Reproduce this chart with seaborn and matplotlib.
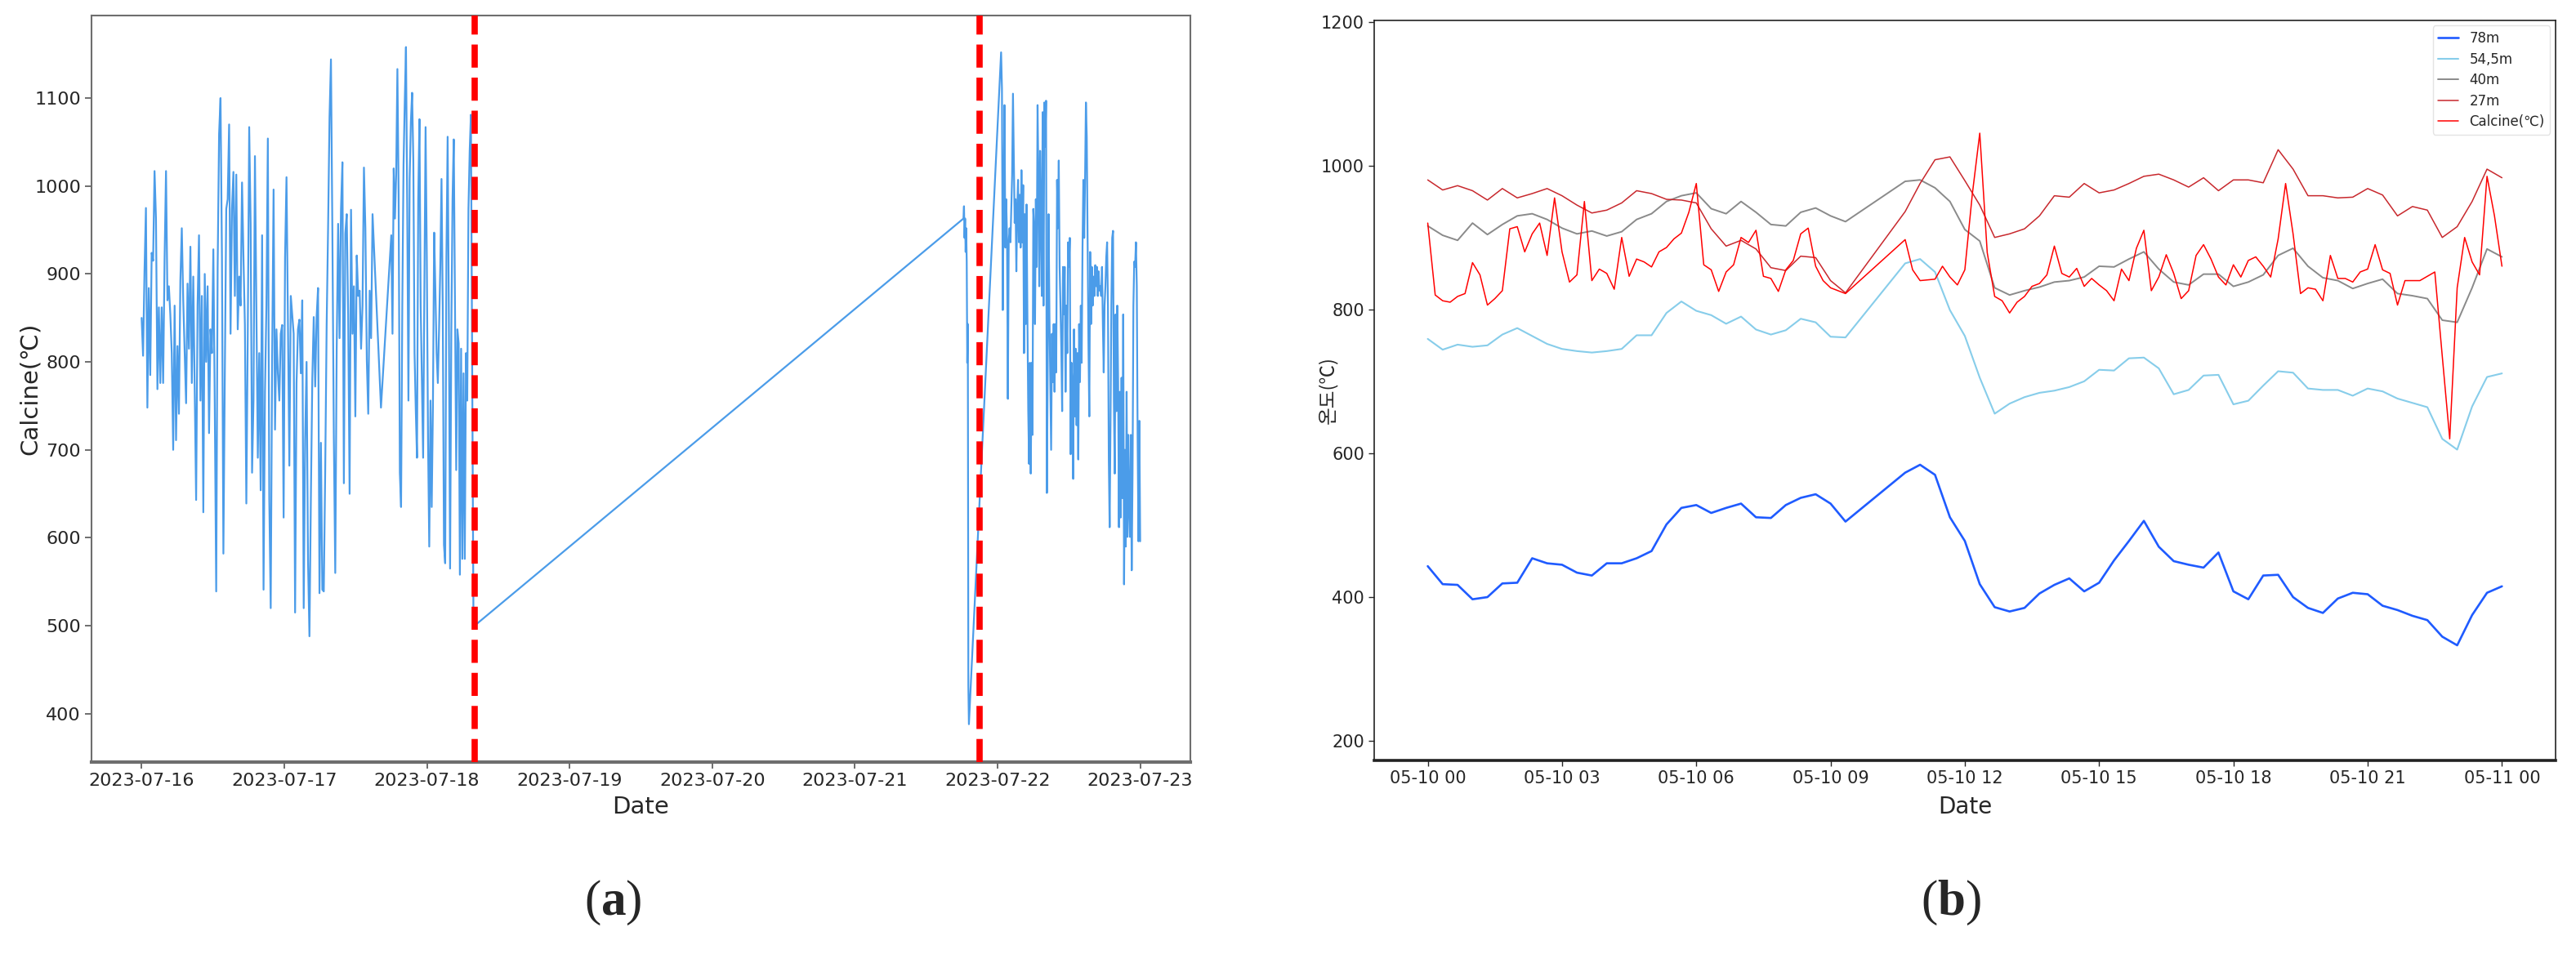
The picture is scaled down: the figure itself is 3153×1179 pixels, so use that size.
import matplotlib
matplotlib.use("Agg")
import matplotlib.pyplot as plt
import matplotlib.dates as mdates
from matplotlib import font_manager
import seaborn as sns
import pandas as pd

# ---------------- data: (a) calcine temperature ----------------
calcine_a_1 = [850, 807, 903, 975, 748, 884, 785, 924, 915, 1017, 963, 769, 862, 776, 862, 776, 917, 1017, 870, 886,
               854, 810, 700, 864, 711, 818, 741, 892, 952, 870, 810, 753, 889, 815, 931, 776, 897, 766, 643, 864,
               944, 756, 875, 629, 900, 800, 886, 719, 837, 810, 928, 750, 539, 907, 1059, 1100, 919, 582, 785, 974,
               985, 1070, 832, 974, 1016, 875, 1013, 837, 897, 864, 1004, 919, 842, 639, 832, 1067, 957, 674, 756, 1034,
               864, 691, 810, 654, 944, 541, 766, 864, 1054, 645, 520, 806, 996, 723, 837, 787, 756, 832, 842, 623,
               919, 1010, 842, 682, 875, 854, 832, 515, 776, 837, 848, 787, 870, 520, 711, 800, 575, 488, 645, 781,
               851, 772, 851, 884, 537, 708, 541, 539, 677, 842, 952, 1078, 1144, 946, 716, 560, 815, 957, 827, 974,
               1027, 662, 946, 968, 854, 650, 973, 832, 886, 738, 921, 875, 881, 815, 864, 1021, 952, 802, 741, 881,
               827, 968]
calcine_a_gap = [748]
calcine_a_2 = [944, 832, 1020, 963, 1013, 1133, 990, 674, 635, 864, 1024, 1095, 1158, 979, 756, 1008, 1073, 1106, 1029, 810,
               745, 691, 985, 1076, 864, 776, 691, 875, 1067, 919, 711, 590, 756, 635, 750, 947, 881, 810, 776, 837,
               908, 1008, 864, 592, 571, 919, 1056, 854, 565, 832, 985, 1053, 864, 677, 837, 821, 558, 815, 576, 787,
               576, 810, 756, 974, 1040, 1081]
calcine_a_drop = [499]
calcine_a_3 = [963, 977, 941, 963, 925, 952, 914, 799, 843, 432, 388]
calcine_a_4 = [1152, 1111, 859, 985, 1092, 930, 985, 941, 758, 936, 952, 936, 974, 1012, 1105, 1029, 958, 985, 903, 974,
               1007, 936, 990, 930, 1018, 936, 1001, 810, 968, 843, 979, 854, 744, 684, 799, 673, 799, 717, 974, 952,
               843, 985, 908, 1092, 1007, 886, 1040, 968, 875, 1084, 864, 1095, 1045, 1097, 651, 799, 968, 854, 777, 700,
               832, 777, 843, 766, 843, 788, 1007, 952, 1029, 908, 864, 815, 744, 908, 854, 908, 766, 864, 810, 936,
               908, 941, 695, 799, 771, 667, 837, 738, 815, 728, 810, 689, 843, 777, 864, 799, 930, 1007, 941, 1007,
               1095, 1056, 936, 821, 738, 925, 843, 908, 864, 897, 875, 910, 886, 908, 875, 903, 881, 886, 875, 908,
               843, 788, 864, 886, 919, 936, 864, 689, 612, 728, 864, 941, 949, 755, 673, 854, 744, 864, 777, 612,
               766, 623, 782, 645, 854, 547, 700, 590, 766, 601, 717, 634, 601, 717, 563, 673, 864, 914, 908, 936,
               886, 711, 596, 733, 596]
segments_a = [
    ("2023-07-16 00:00", "2023-07-17 14:51", calcine_a_1),
    ("2023-07-17 16:16", "2023-07-17 16:16", calcine_a_gap),
    ("2023-07-17 18:00", "2023-07-18 07:24", calcine_a_2),
    ("2023-07-18 07:50", "2023-07-18 07:50", calcine_a_drop),
    ("2023-07-21 18:16", "2023-07-21 19:11", calcine_a_3),
    ("2023-07-22 00:36", "2023-07-23 00:00", calcine_a_4),
]
event_lines = ["2023-07-18 08:00", "2023-07-21 21:00"]

# ---------------- data: (b) temperatures by height ----------------
blue_78_a = [443, 418, 417, 397, 400, 419, 420, 454, 447, 445, 434, 430, 447, 447, 454, 464, 501, 524, 528, 517,
             524, 530, 511, 510, 528, 538, 543, 530, 505]
blue_78_b = [573, 584, 570, 511, 478, 418, 386, 380, 385, 405, 417, 426, 408, 420, 451, 478, 506, 470, 450, 445,
             441, 462, 408, 397, 430, 431, 400, 385, 378, 398, 406, 404, 388, 382, 374, 368, 345, 333, 375, 406, 415]
sky_545_a = [759, 744, 751, 748, 750, 765, 774, 763, 752, 745, 742, 740, 742, 745, 764, 764, 795, 811, 798, 792,
             780, 790, 772, 765, 771, 787, 782, 762, 761]
sky_545_b = [864, 870, 852, 799, 763, 705, 655, 669, 678, 684, 687, 692, 700, 716, 715, 732, 733, 718, 682, 688,
             708, 709, 668, 673, 694, 714, 712, 690, 688, 688, 680, 690, 686, 676, 670, 664, 620, 605, 665, 706, 711]
gray_40_a = [916, 903, 896, 920, 904, 918, 930, 933, 925, 913, 905, 909, 902, 908, 925, 933, 950, 958, 962, 940,
             933, 950, 935, 918, 916, 935, 941, 930, 922]
gray_40_b = [978, 980, 969, 950, 911, 895, 830, 820, 826, 831, 838, 840, 845, 860, 859, 870, 880, 856, 838, 834,
             849, 849, 832, 838, 848, 875, 885, 860, 844, 840, 829, 836, 842, 822, 819, 815, 785, 782, 830, 884, 873]
dred_27_a = [980, 966, 972, 965, 952, 968, 955, 961, 968, 958, 945, 934, 938, 948, 965, 961, 953, 952, 948, 912,
             888, 896, 884, 858, 854, 874, 872, 840, 823]
dred_27_b = [936, 975, 1008, 1012, 979, 945, 900, 905, 912, 930, 958, 956, 975, 962, 966, 975, 985, 988, 980, 970,
             983, 965, 980, 980, 976, 1022, 995, 958, 958, 955, 956, 968, 959, 930, 943, 938, 900, 915, 950, 995, 983]
calc_b_a = [920, 820, 812, 810, 818, 822, 865, 848, 806, 815, 826, 912, 915, 880, 905, 920, 875, 955, 880, 838,
            848, 950, 840, 856, 850, 828, 900, 846, 870, 866, 859, 880, 886, 898, 906, 935, 975, 862, 855, 825,
            852, 862, 900, 893, 910, 846, 843, 825, 855, 868, 905, 913, 860, 840, 830, 826, 822]
calc_b_b = [897, 855, 840, 841, 842, 860, 845, 834, 855, 960, 1045, 879, 818, 812, 795, 810, 818, 832, 836, 848,
            888, 850, 845, 857, 832, 843, 834, 826, 812, 856, 840, 885, 910, 826, 845, 876, 850, 815, 826, 875,
            890, 870, 845, 834, 862, 845, 868, 873, 860, 845, 898, 975, 905, 822, 830, 828, 812, 875, 843, 843,
            838, 852, 856, 890, 855, 850, 806, 840, 840, 840, 846, 852, 735, 620, 830, 900, 866, 848, 985, 930, 860]

series_names = ["78m", "54,5m", "40m", "27m", "Calcine(℃)"]
series_colors = ["#1f5bff", "#87cdea", "#8a8a8a", "#c8282d", "#ff0000"]
series_widths = [1.9, 1.5, 1.4, 1.1, 1.1]

# ---------------- fonts / style ----------------
sns.set_style("ticks")
names = {f.name for f in font_manager.fontManager.ttflist}
base_font = "Liberation Sans Narrow" if "Liberation Sans Narrow" in names else "DejaVu Sans"
plt.rcParams["font.family"] = [base_font, "DejaVu Sans", "Noto Sans CJK KR"]
plt.rcParams["mathtext.fontset"] = "custom"
plt.rcParams["mathtext.bf"] = "Liberation Serif:bold"
plt.rcParams["mathtext.rm"] = "Liberation Serif"

fig = plt.figure(figsize=(31.53, 11.79), dpi=100)
ax1 = fig.add_axes([0.0356, 0.2087, 0.4264, 0.7753])
ax2 = fig.add_axes([0.5334, 0.2104, 0.4587, 0.7686])

# ---------------- (a) ----------------
frames = []
for start, end, vals in segments_a:
    t = pd.date_range(start, end, periods=len(vals))
    frames.append(pd.DataFrame({"Date": t, "Calcine": vals}))
df_a = pd.concat(frames, ignore_index=True)

sns.lineplot(data=df_a, x="Date", y="Calcine", ax=ax1, color="#4b9ce9",
             linewidth=1.6, estimator=None, sort=False)
for t in event_lines:
    ax1.axvline(pd.Timestamp(t), color="#ff0000", linestyle="--", linewidth=5.5, zorder=3)

ax1.set_ylim(345, 1194)
ax1.xaxis.set_major_locator(mdates.DayLocator())
ax1.xaxis.set_major_formatter(mdates.DateFormatter("%Y-%m-%d"))
ax1.set_yticks([400, 500, 600, 700, 800, 900, 1000, 1100])
ax1.tick_params(axis="both", labelsize=16, length=6, width=1.2, color="#555555")
ax1.set_xlabel("Date", fontsize=21, labelpad=6)
ax1.set_ylabel("Calcine(℃)", fontsize=21)
ax1.yaxis.set_label_coords(-0.046, 0.5)
for side, sp in ax1.spines.items():
    sp.set_visible(True)
    sp.set_color("#6e6e6e")
    sp.set_linewidth(3 if side == "bottom" else 1.5)

# ---------------- (b) ----------------
times_b1 = pd.date_range("2023-05-10 00:00", "2023-05-10 09:20", freq="20min")
times_b2 = pd.date_range("2023-05-10 10:40", "2023-05-11 00:00", freq="20min")
times_c1 = pd.date_range("2023-05-10 00:00", "2023-05-10 09:20", freq="10min")
times_c2 = pd.date_range("2023-05-10 10:40", "2023-05-11 00:00", freq="10min")

series_data = [
    (blue_78_a + blue_78_b, times_b1.append(times_b2)),
    (sky_545_a + sky_545_b, times_b1.append(times_b2)),
    (gray_40_a + gray_40_b, times_b1.append(times_b2)),
    (dred_27_a + dred_27_b, times_b1.append(times_b2)),
    (calc_b_a + calc_b_b, times_c1.append(times_c2)),
]
for (vals, times), name, col, lw in zip(series_data, series_names, series_colors, series_widths):
    sns.lineplot(x=times, y=vals, ax=ax2, color=col, linewidth=lw, label=name,
                 estimator=None, sort=False)

ax2.set_ylim(173, 1202)
ax2.set_yticks([200, 400, 600, 800, 1000, 1200])
ax2.xaxis.set_major_locator(mdates.HourLocator(byhour=range(0, 24, 3)))
ax2.xaxis.set_major_formatter(mdates.DateFormatter("%m-%d %H"))
ax2.tick_params(axis="both", labelsize=15, length=5, width=1.0)
ax2.set_xlabel("Date", fontsize=20, labelpad=8)
ax2.set_ylabel("온도(℃)", fontsize=17, family=["Noto Sans CJK KR", "DejaVu Sans"])
ax2.yaxis.set_label_coords(-0.031, 0.5)
for side, sp in ax2.spines.items():
    sp.set_visible(True)
    sp.set_color("#222222")
    sp.set_linewidth(2.6 if side == "bottom" else 1.2)
leg = ax2.legend(loc="upper right", fontsize=12, handlelength=1.5, labelspacing=0.45,
                 frameon=True, borderaxespad=0.4)
leg.get_frame().set_edgecolor("#dddddd")

# ---------------- panel labels ----------------
fig.text(750 / 3153, 1 - 1105 / 1179, r"($\mathbf{a}$)", fontsize=44, ha="center", va="center",
         family="Liberation Serif")
fig.text(2388 / 3153, 1 - 1105 / 1179, r"($\mathbf{b}$)", fontsize=44, ha="center", va="center",
         family="Liberation Serif")

fig.savefig("out.png", dpi=100)
